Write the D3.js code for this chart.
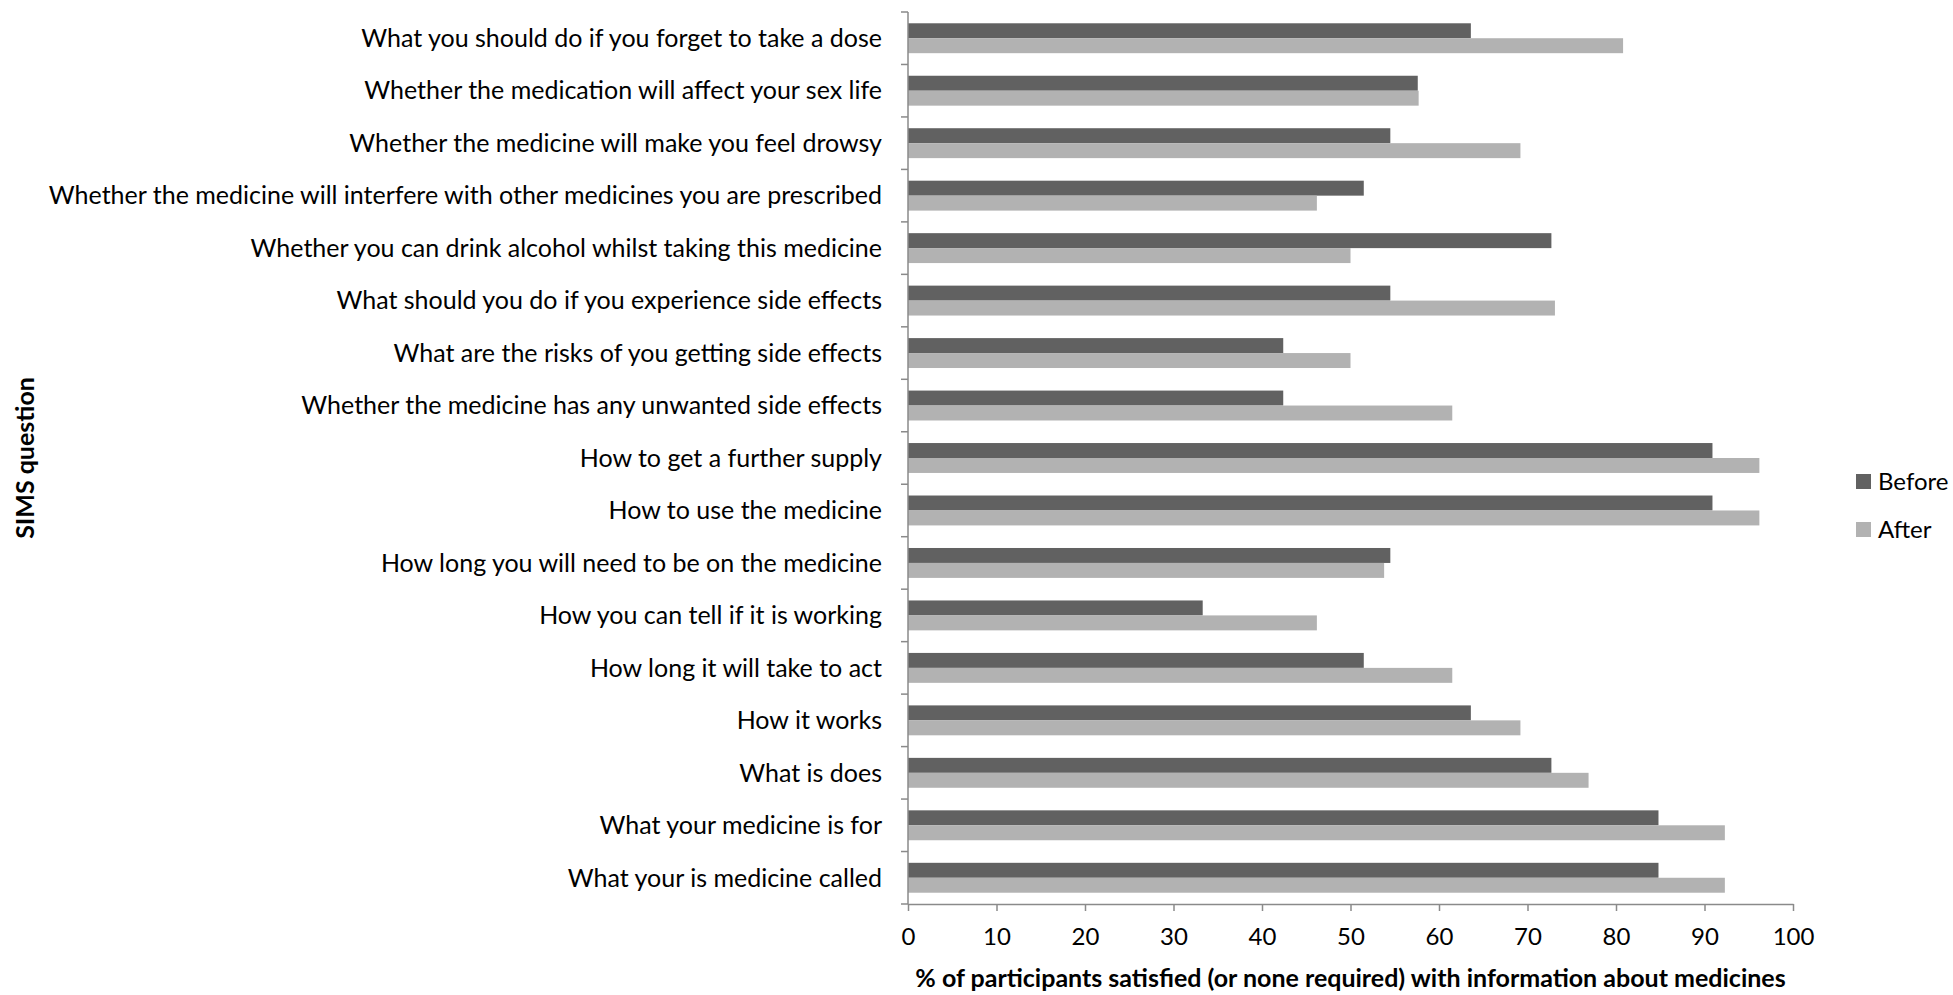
<!DOCTYPE html>
<html>
<head>
<meta charset="utf-8">
<script src="https://cdn.jsdelivr.net/npm/d3@7"></script>
<style>
  html, body { margin: 0; padding: 0; background: #fff; }
  svg { display: block; }
  text { font-family: Lato, "Open Sans", sans-serif; fill: #000; }
</style>
</head>
<body>
<svg id="chart" width="1953" height="995"></svg>
<script>
// SIMS questions, listed top to bottom
const questions = [
  "What you should do if you forget to take a dose",
  "Whether the medication will affect your sex life",
  "Whether the medicine will make you feel drowsy",
  "Whether the medicine will interfere with other medicines you are prescribed",
  "Whether you can drink alcohol whilst taking this medicine",
  "What should you do if you experience side effects",
  "What are the risks of you getting side effects",
  "Whether the medicine has any unwanted side effects",
  "How to get a further supply",
  "How to use the medicine",
  "How long you will need to be on the medicine",
  "How you can tell if it is working",
  "How long it will take to act",
  "How it works",
  "What is does",
  "What your medicine is for",
  "What your is medicine called"
];

// % satisfied (or none required), same order as questions
const before = [63.6, 57.6, 54.5, 51.5, 72.7, 54.5, 42.4, 42.4, 90.9, 90.9, 54.5, 33.3, 51.5, 63.6, 72.7, 84.8, 84.8];
const after  = [80.8, 57.7, 69.2, 46.2, 50.0, 73.1, 50.0, 61.5, 96.2, 96.2, 53.8, 46.2, 61.5, 69.2, 76.9, 92.3, 92.3];

const seriesNames = ["Before", "After"];
const seriesColors = ["#616161", "#b2b2b2"];
const xTicks = [0, 10, 20, 30, 40, 50, 60, 70, 80, 90, 100];

const xLabel = "% of participants satisfied (or none required) with information about medicines";
const yLabel = "SIMS question";

const rows = questions.map((q, i) => ({ q, values: [before[i], after[i]] }));

const svg = d3.select("#chart");
const plot = { left: 908, right: 1793, top: 12, bottom: 904 };
const axisColor = "#8a8a8a";

const x = d3.scaleLinear().domain([0, 100]).range([plot.left, plot.right]);
const y = d3.scaleBand().domain(questions).range([plot.top, plot.bottom]).padding(0);

// the two bars sit in the middle 57% of each category slot
const bw = y.bandwidth();
const inner = d3.scaleBand().domain(seriesNames)
  .range([bw * 0.215, bw * 0.785]).padding(0);
const color = d3.scaleOrdinal().domain(seriesNames).range(seriesColors);

// bars
const groups = svg.append("g").selectAll("g")
  .data(rows).join("g")
  .attr("transform", d => `translate(0,${y(d.q)})`);

groups.selectAll("rect")
  .data(d => d.values.map((v, i) => ({ name: seriesNames[i], v })))
  .join("rect")
  .attr("x", x(0))
  .attr("y", d => inner(d.name))
  .attr("width", d => x(d.v) - x(0))
  .attr("height", inner.bandwidth())
  .attr("fill", d => color(d.name));

// x axis
const xAxis = svg.append("g")
  .attr("transform", `translate(0,${plot.bottom})`)
  .call(d3.axisBottom(x).tickValues(xTicks).tickSize(7).tickPadding(17).tickSizeOuter(0));
xAxis.select(".domain").attr("stroke", axisColor).attr("stroke-width", 1.5);
xAxis.selectAll(".tick line").attr("stroke", axisColor).attr("stroke-width", 1.5);
xAxis.selectAll("text").attr("font-size", 24).style("font-family", "Lato");

// y axis: tick marks at slot boundaries, labels at slot centres
const yAxis = svg.append("g").attr("transform", `translate(${plot.left},0)`);
yAxis.append("line")
  .attr("x1", 0).attr("x2", 0)
  .attr("y1", plot.top).attr("y2", plot.bottom)
  .attr("stroke", axisColor).attr("stroke-width", 1.5);
const bounds = questions.map(q => y(q)).concat([plot.bottom]);
yAxis.selectAll("line.tick")
  .data(bounds).join("line")
  .attr("class", "tick")
  .attr("x1", -7).attr("x2", 0)
  .attr("y1", d => d).attr("y2", d => d)
  .attr("stroke", axisColor).attr("stroke-width", 1.5);
yAxis.selectAll("text")
  .data(questions).join("text")
  .attr("x", -26)
  .attr("y", d => y(d) + bw / 2)
  .attr("dy", "0.35em")
  .attr("text-anchor", "end")
  .attr("font-size", 25)
  .text(d => d);

// axis titles
svg.append("text")
  .attr("x", (plot.left + plot.right) / 2)
  .attr("y", 978)
  .attr("dy", "0.35em")
  .attr("text-anchor", "middle")
  .attr("font-size", 25)
  .attr("font-weight", "bold")
  .text(xLabel);

svg.append("text")
  .attr("transform", `translate(25,458) rotate(-90)`)
  .attr("dy", "0.35em")
  .attr("text-anchor", "middle")
  .attr("font-size", 25)
  .attr("font-weight", "bold")
  .text(yLabel);

// legend
const legend = svg.append("g").attr("transform", "translate(1856,474)");
const items = legend.selectAll("g")
  .data(seriesNames).join("g")
  .attr("transform", (d, i) => `translate(0,${i * 48})`);
items.append("rect")
  .attr("width", 15).attr("height", 15)
  .attr("fill", d => color(d));
items.append("text")
  .attr("x", 22).attr("y", 7.5)
  .attr("dy", "0.35em")
  .attr("font-size", 24)
  .text(d => d);
</script>
</body>
</html>
